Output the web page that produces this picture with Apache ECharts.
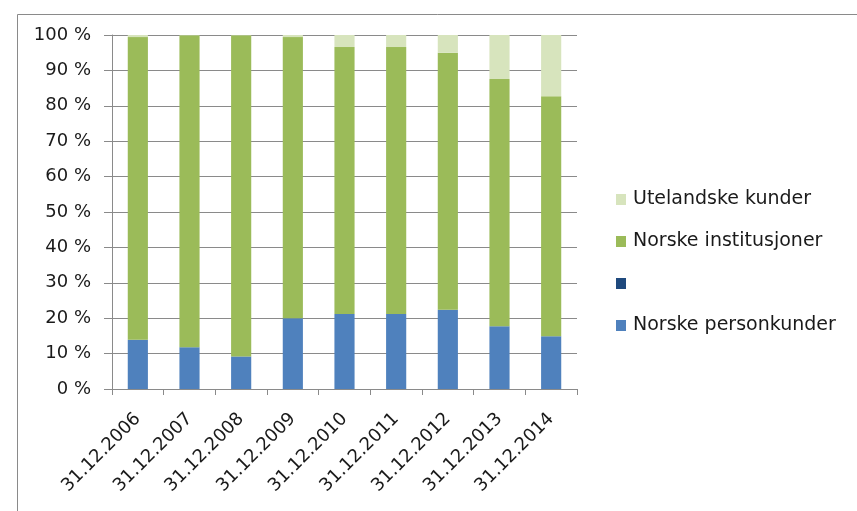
<!DOCTYPE html>
<html><head><meta charset="utf-8">
<script src="https://cdn.jsdelivr.net/npm/echarts@6/dist/echarts.min.js"></script>
<style>html,body{margin:0;padding:0;background:#fff}#c{width:857px;height:511px}</style>
</head><body><div id="c"></div>
<script>
const categories = ['31.12.2006','31.12.2007','31.12.2008','31.12.2009','31.12.2010','31.12.2011','31.12.2012','31.12.2013','31.12.2014'];
const personkunder = [13.9, 11.8, 9.2, 20.0, 21.2, 21.2, 22.4, 17.7, 14.9];
const institusjoner = [85.5, 88.1, 90.7, 79.4, 75.4, 75.4, 72.6, 69.9, 67.8];
const utelandske = [0.6, 0.1, 0.1, 0.6, 3.4, 3.4, 5.0, 12.4, 17.3];
const blankSeries = [];
const yTicks = [0,10,20,30,40,50,60,70,80,90,100];

const font = '"DejaVu Sans", "Liberation Sans", sans-serif';
const chart = echarts.init(document.getElementById('c'), null, {renderer:'canvas'});
chart.setOption({
  animation:false,
  textStyle:{fontFamily:font},
  graphic:[{type:'rect',shape:{x:17.5,y:14.5,width:900,height:600},style:{fill:'none',stroke:'#8a8a8a',lineWidth:1}}],
  grid:{left:112,right:280,top:35,bottom:122,containLabel:false},
  legend:{
    orient:'vertical', left:611, top:185, itemGap:23, itemWidth:10, itemHeight:11,
    icon:'rect',
    data:['Utelandske kunder','Norske institusjoner',' ','Norske personkunder'],
    textStyle:{fontFamily:font,fontSize:19,color:'#1a1a1a',padding:[0,0,0,2]}
  },
  xAxis:{
    type:'category', data:categories,
    axisLine:{lineStyle:{color:'#8a8a8a'}},
    axisTick:{show:true,alignWithLabel:false,length:6,lineStyle:{color:'#8a8a8a'}},
    axisLabel:{rotate:45,fontSize:18,color:'#1a1a1a',margin:27,fontFamily:font,interval:0}
  },
  yAxis:{
    type:'value', min:0, max:100, interval:10,
    axisLine:{show:true,lineStyle:{color:'#8a8a8a'}},
    axisTick:{show:true,length:8,inside:false,lineStyle:{color:'#8a8a8a'}},
    splitLine:{lineStyle:{color:'#8a8a8a'}},
    axisLabel:{fontSize:18,color:'#1a1a1a',margin:21,fontFamily:font,formatter:v=>v+' %'}
  },
  series:[
    {name:'Norske personkunder',type:'bar',stack:'a',barWidth:'39%',data:personkunder,itemStyle:{color:'#4F81BD'}},
    {name:' ',type:'bar',stack:'a',data:blankSeries,itemStyle:{color:'#1F497D'}},
    {name:'Norske institusjoner',type:'bar',stack:'a',data:institusjoner,itemStyle:{color:'#9BBB59'}},
    {name:'Utelandske kunder',type:'bar',stack:'a',data:utelandske,itemStyle:{color:'#D7E4BD'}}
  ]
});
</script></body></html>
